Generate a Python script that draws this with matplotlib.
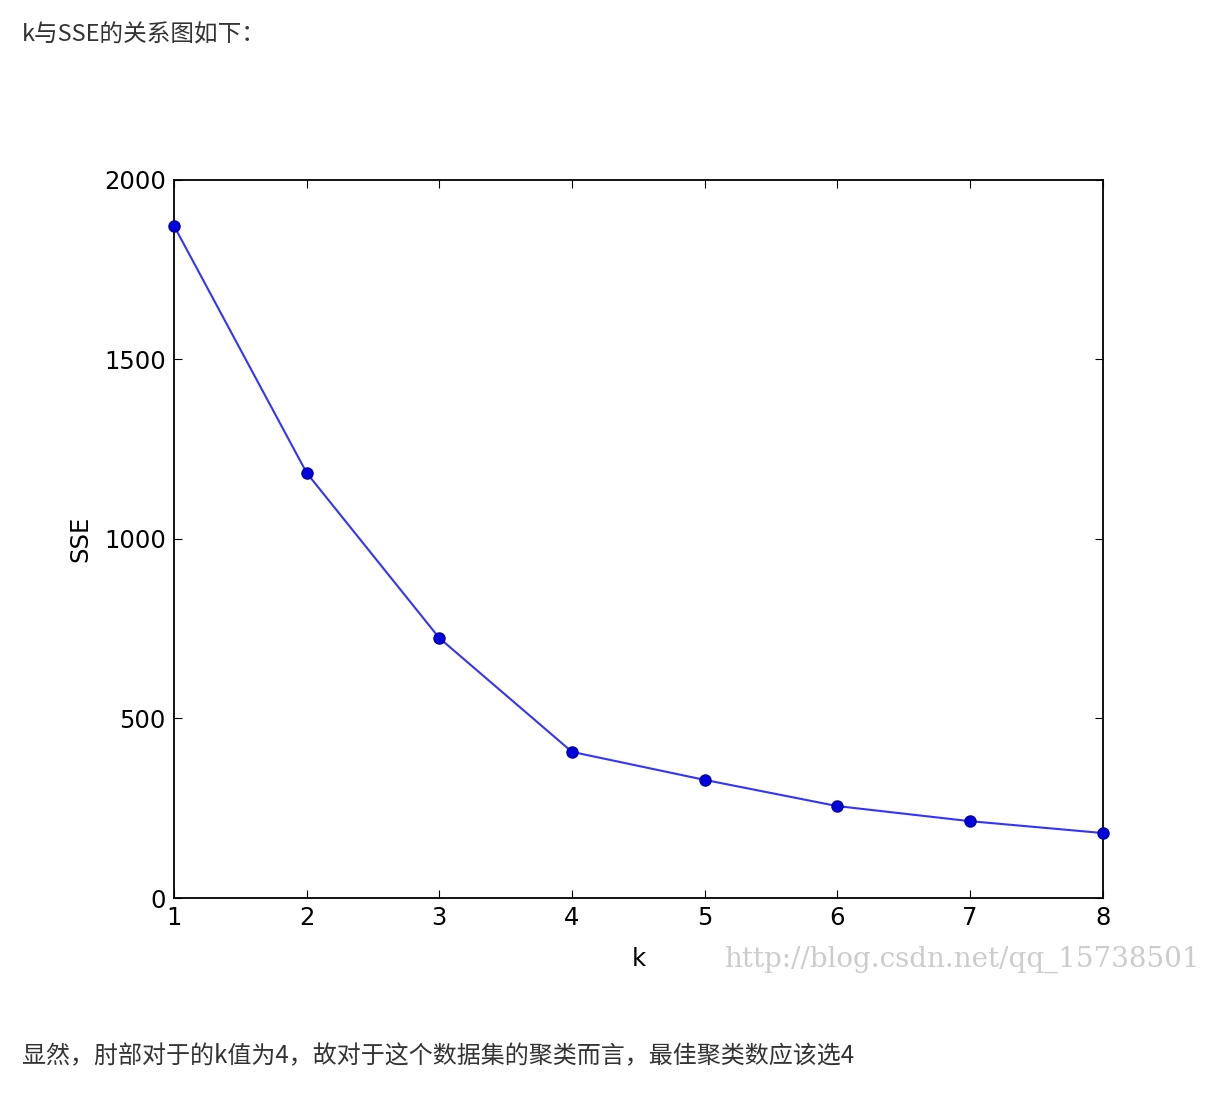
import matplotlib
matplotlib.use("Agg")
import matplotlib.pyplot as plt

k = [1, 2, 3, 4, 5, 6, 7, 8]
sse = [1872, 1184, 724, 407, 329, 256, 214, 181]
yticks = [0, 500, 1000, 1500, 2000]

plt.rcParams['font.family'] = ['Noto Sans CJK SC', 'DejaVu Sans']

fig = plt.figure(figsize=(12.17, 10.93), dpi=100)
ax = fig.add_axes([0.143, 0.1784, 0.763, 0.657])
ax.plot(k, sse, color='#3333ff', lw=1.5, marker='o', markersize=8,
        markerfacecolor='#0000dd', markeredgecolor='#0000aa', clip_on=False, zorder=3)
ax.set_xlim(1, 8)
ax.set_ylim(0, 2000)
ax.set_xticks(k)
ax.set_yticks(yticks)
ax.tick_params(direction='in', top=True, right=True, labelsize=17.5, length=6, pad=6)
for lab in ax.get_xticklabels() + ax.get_yticklabels():
    lab.set_family('DejaVu Sans')
for s in ax.spines.values():
    s.set_linewidth(1.3)
ax.set_xlabel('k', fontsize=17.5, family='DejaVu Sans', labelpad=12)
ax.set_ylabel('SSE', fontsize=17.5, family='DejaVu Sans', labelpad=8)

fig.text(0.018, 0.968, 'k与SSE的关系图如下：', fontsize=17, color='#333333', va='center')
fig.text(0.018, 0.034, '显然，肘部对于的k值为4，故对于这个数据集的聚类而言，最佳聚类数应该选4',
         fontsize=17.3, color='#333333', va='center')
fig.text(0.595, 0.122, 'http://blog.csdn.net/qq_15738501', fontsize=20,
         color='#cccccc', family='DejaVu Serif', va='center')
fig.savefig('out.png', dpi=100)
